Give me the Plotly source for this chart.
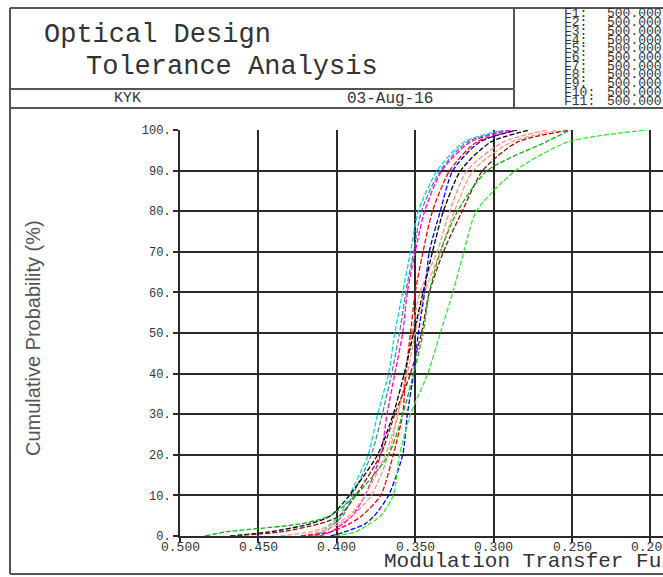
import plotly.graph_objects as go

# ---------------- data ----------------
cum_prob = [0, 1, 3, 5, 10, 20, 30, 40, 50, 60, 70, 80, 90, 97, 100]

mtf_cyan = [0.417, 0.409, 0.404, 0.398, 0.392, 0.380, 0.374, 0.367, 0.363, 0.358, 0.353, 0.348, 0.336, 0.319, 0.294]
mtf_teal = [0.414, 0.407, 0.402, 0.396, 0.390, 0.378, 0.371, 0.365, 0.360, 0.356, 0.351, 0.346, 0.334, 0.317, 0.291]
mtf_magenta = [0.411, 0.404, 0.396, 0.390, 0.382, 0.372, 0.368, 0.363, 0.358, 0.355, 0.350, 0.344, 0.333, 0.315, 0.289]
mtf_red = [0.423, 0.404, 0.392, 0.384, 0.372, 0.364, 0.358, 0.356, 0.353, 0.350, 0.345, 0.339, 0.328, 0.311, 0.285]
mtf_blue = [0.404, 0.395, 0.382, 0.376, 0.367, 0.358, 0.355, 0.351, 0.348, 0.344, 0.341, 0.334, 0.326, 0.309, 0.285]
mtf_black = [0.468, 0.443, 0.417, 0.404, 0.392, 0.374, 0.364, 0.357, 0.351, 0.345, 0.339, 0.332, 0.321, 0.302, 0.277]
mtf_pink = [0.423, 0.411, 0.398, 0.390, 0.378, 0.367, 0.361, 0.356, 0.352, 0.347, 0.336, 0.328, 0.317, 0.294, 0.266]
mtf_orange = [0.436, 0.417, 0.401, 0.392, 0.382, 0.369, 0.361, 0.355, 0.350, 0.344, 0.334, 0.325, 0.313, 0.289, 0.258]
mtf_brown = [0.468, 0.436, 0.411, 0.398, 0.388, 0.372, 0.363, 0.353, 0.346, 0.341, 0.332, 0.320, 0.307, 0.285, 0.251]
mtf_green = [0.484, 0.471, 0.423, 0.404, 0.388, 0.367, 0.358, 0.351, 0.345, 0.341, 0.334, 0.323, 0.304, 0.267, 0.251]
mtf_lightgreen = [0.401, 0.388, 0.379, 0.372, 0.364, 0.360, 0.353, 0.342, 0.334, 0.326, 0.319, 0.311, 0.286, 0.253, 0.202]

series = [
    ("cyan", mtf_cyan, "#00d8e8"),
    ("teal", mtf_teal, "#508888"),
    ("magenta", mtf_magenta, "#ff00ff"),
    ("pink", mtf_pink, "#ff8c8c"),
    ("orange", mtf_orange, "#ff9c70"),
    ("red", mtf_red, "#ff0000"),
    ("blue", mtf_blue, "#0000ff"),
    ("black", mtf_black, "#000000"),
    ("brown", mtf_brown, "#8b1010"),
    ("green", mtf_green, "#10b010"),
    ("lightgreen", mtf_lightgreen, "#30e830"),
]

x_tickvals = [0.500, 0.450, 0.400, 0.350, 0.300, 0.250, 0.200]
x_ticktext = ["0.500", "0.450", "0.400", "0.350", "0.300", "0.250", "0.200"]
y_tickvals = [0, 10, 20, 30, 40, 50, 60, 70, 80, 90, 100]
y_ticktext = ["0.", "10.", "20.", "30.", "40.", "50.", "60.", "70.", "80.", "90.", "100."]

field_labels = ["F1:", "F2:", "F3:", "F4:", "F5:", "F6:", "F7:", "F8:", "F9:", "F10:", "F11:"]
field_values = ["500.000"] * 11

# ---------------- layout geometry ----------------
W, H = 663, 577
PL, PT, PB = 180, 130, 536
X_RIGHT = 0.5 - (W - PL) / 1568.0


def fx(px):
    return (px - PL) / (W - PL)


def fy(py):
    return (PB - py) / (PB - PT)


fig = go.Figure()
for name, vals, col in series:
    fig.add_trace(go.Scatter(
        x=vals, y=cum_prob, mode="lines", name=name,
        line=dict(color=col, width=1.3, dash="5px,2px", shape="spline", smoothing=0.7),
        showlegend=False, hoverinfo="skip",
    ))

MONO = "Liberation Mono, Courier New, monospace"

fig.update_xaxes(
    range=[0.5, X_RIGHT], tickvals=x_tickvals, showticklabels=False,
    showgrid=True, gridcolor="#2a2a2a", gridwidth=2,
    showline=True, linecolor="#2a2a2a", linewidth=2,
    ticks="outside", ticklen=5, tickcolor="#2a2a2a", tickwidth=2,
    zeroline=False,
)
fig.update_yaxes(
    range=[0, 100], tickvals=y_tickvals, ticktext=y_ticktext,
    showgrid=True, gridcolor="#2a2a2a", gridwidth=2,
    showline=True, linecolor="#2a2a2a", linewidth=2,
    ticks="outside", ticklen=5, tickcolor="#2a2a2a", tickwidth=2,
    tickfont=dict(family=MONO, size=12, color="#333"),
    zeroline=False,
)

FRAME = "#555555"
shapes = []


def hline(py, x0, x1, w=2):
    shapes.append(dict(type="line", xref="paper", yref="paper",
                       x0=fx(x0), x1=fx(x1), y0=fy(py), y1=fy(py),
                       line=dict(color=FRAME, width=w)))


def vline(px, y0, y1, w=2):
    shapes.append(dict(type="line", xref="paper", yref="paper",
                       x0=fx(px), x1=fx(px), y0=fy(y0), y1=fy(y1),
                       line=dict(color=FRAME, width=w)))


hline(8, 10, 700)
hline(574, 10, 700)
hline(108, 10, 700)
hline(89, 10, 514)
vline(10, 8, 574)
vline(514, 8, 108)

annotations = []


def text(s, px, py, size, family=MONO, anchor="left", color="#333", angle=0):
    annotations.append(dict(text=s, x=fx(px), y=fy(py), xref="paper", yref="paper",
                            xanchor=anchor, yanchor="middle", showarrow=False,
                            textangle=angle,
                            font=dict(family=family, size=size, color=color)))


text("Optical Design", 42, 35, 27)
text("Tolerance Analysis", 84, 67, 27)
text("KYK", 127, 99, 15, anchor="center")
text("03-Aug-16", 390, 99, 16, anchor="center")
for i, (lab, val) in enumerate(zip(field_labels, field_values)):
    py = 14 + i * 8.7
    text(lab, 562, py, 13, color="#333")
    text(val, 605, py, 13, color="#333")

# x tick labels placed just under the axis
for v, t in zip(x_tickvals, x_ticktext):
    annotations.append(dict(text=t, x=v, y=fy(547), xref="x", yref="paper",
                            xanchor="center", yanchor="middle", showarrow=False,
                            font=dict(family=MONO, size=13, color="#333")))

text("Cumulative Probability (%)", 33, 338, 20,
     family="Liberation Sans, Arial, sans-serif", anchor="center", color="#555", angle=-90)
text("Modulation Transfer Function", 382, 561, 21)

fig.update_layout(
    width=W, height=H,
    margin=dict(l=PL, r=0, t=PT, b=H - PB, pad=0),
    paper_bgcolor="white", plot_bgcolor="white",
    shapes=shapes, annotations=annotations,
    showlegend=False,
)

fig.write_html("out.html")
